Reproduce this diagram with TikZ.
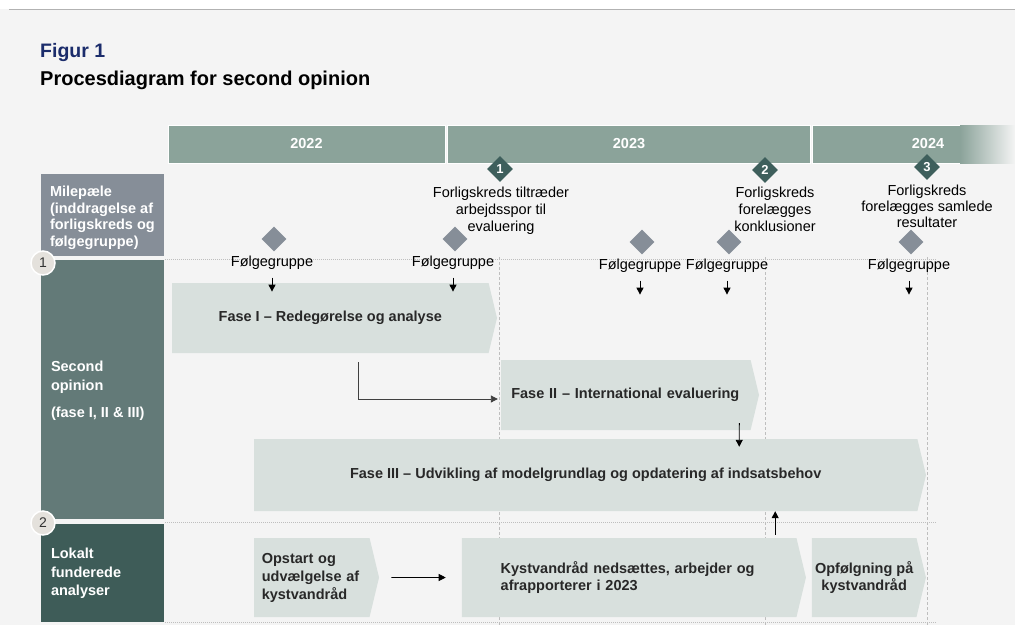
\documentclass[tikz,border=0pt]{standalone}
\usepackage{fontspec}
\setmainfont{Liberation Sans}
\usepackage{tikz}
\usetikzlibrary{shapes.geometric, shapes.symbols, arrows.meta, positioning, calc}
\definecolor{pageBg}{RGB}{244, 244, 244}
\definecolor{ruleGray}{RGB}{178, 178, 178}
\definecolor{titleBlue}{RGB}{27, 44, 107}
\definecolor{yearBg}{RGB}{139, 163, 154}
\definecolor{mileDark}{RGB}{62, 95, 92}
\definecolor{mileGray}{RGB}{134, 142, 152}
\definecolor{rowSecond}{RGB}{99, 122, 120}
\definecolor{rowLocal}{RGB}{62, 92, 88}
\definecolor{phaseBg}{RGB}{216, 224, 221}
\definecolor{phaseFg}{RGB}{40, 40, 40}
\definecolor{gridGray}{RGB}{190, 190, 190}
\definecolor{circleBg}{RGB}{228, 225, 220}
\tikzstyle{arrow} = [line width=0.9pt, -{Triangle[length=7pt,width=7pt]}, black]
\tikzstyle{basic} = [font=\fontsize{14.5}{17}\selectfont, text=black]
\tikzstyle{year} = [rectangle, fill=yearBg, draw=white, line width=0.8pt, minimum height=38pt]
\tikzstyle{yeartext} = [text=white, inner sep=0pt, font=\bfseries\fontsize{14.5}{17}\selectfont]
\tikzstyle{phase} = [signal, signal to=east, signal pointer angle=153, fill=phaseBg, text=phaseFg, inner sep=0pt, font=\bfseries\fontsize{14.5}{17}\selectfont]
\tikzstyle{rowbox} = [rectangle, minimum width=123pt, inner sep=0pt]
\tikzstyle{rowtext} = [text=white, align=left, inner sep=0pt, anchor=north west, font=\bfseries\fontsize{14.5}{18.5}\selectfont]
\tikzstyle{milestone} = [diamond, fill=mileDark, text=white, minimum size=26pt, inner sep=0pt, font=\bfseries\fontsize{13}{13}\selectfont]
\tikzstyle{fgmark} = [diamond, fill=mileGray, minimum size=25pt, inner sep=0pt]
\tikzstyle{rownum} = [circle, fill=circleBg, draw=white, line width=1.5pt, minimum size=24pt, inner sep=0pt, text=black!80, font=\fontsize{14}{14}\selectfont]
\tikzstyle{grid} = [gridGray, densely dotted, line width=1pt]
\tikzstyle{vgrid} = [gridGray, dash pattern=on 3pt off 2pt, line width=0.7pt]
\begin{document}
\begin{tikzpicture}[x=1pt, y=-1pt]
\useasboundingbox (0,0) rectangle (1015,625);
\fill[pageBg] (0,9) rectangle (1015,625);
\draw[ruleGray, line width=1pt] (9,9) -- (1015,9);

\node (figno) [anchor=west, inner sep=0pt, text=titleBlue, font=\bfseries\fontsize{19.5}{23}\selectfont] at (40,52) {Figur 1};
\node (title) [anchor=west, inner sep=0pt, font=\bfseries\fontsize{20}{23}\selectfont] at (40,80) {Procesdiagram for second opinion};

% years
\node (y2022) [year, minimum width=277pt] at (306.5,144) {};
\node (y2023) [year, minimum width=363pt] at (629,144) {};
\node (y2024) [year, minimum width=203pt] at (913.5,144) {};
\shade[left color=yearBg, right color=pageBg] (960,125) rectangle (1015,163);
\node (y2022text) [yeartext] at (y2022.center) {2022};
\node (y2023text) [yeartext] at (y2023.center) {2023};
\node (y2024text) [yeartext] at (928,144) {2024};

% grid
\draw[grid] (165,259) -- (937,259);
\draw[grid] (165,522) -- (937,522);
\draw[grid] (165,622) -- (937,622);
\foreach \x in {499,765,927} \draw[vgrid] (\x,257) -- (\x,625);

% row headers
\node (mile) [rowbox, fill=mileGray, minimum height=82pt] at (102.5,215) {};
\node (second) [rowbox, fill=rowSecond, minimum height=259pt] at (102.5,389.5) {};
\node (local) [rowbox, fill=rowLocal, minimum height=98pt] at (102.5,573) {};
\node (miletext) [rowtext, xshift=9pt, yshift=-12pt, font=\bfseries\fontsize{14.5}{16.6}\selectfont] at (mile.north west) {Milepæle\\(inddragelse af\\forligskreds og\\følgegruppe)};
\node (secondtext) [rowtext, xshift=10pt, yshift=-101pt] at (second.north west) {Second\\opinion\\[9pt](fase I, II \& III)};
\node (localtext) [rowtext, xshift=10pt, yshift=-24pt] at (local.north west) {Lokalt\\funderede\\analyser};
\node (num1) [rownum] at (43,263) {1};
\node (num2) [rownum] at (43,523) {2};

% milestones
\node (m1) [milestone] at (500,169) {1};
\node (m2) [milestone] at (765,170) {2};
\node (m3) [milestone] at (927,167) {3};
\node (m1text) [basic, align=center, inner sep=0pt, anchor=north, yshift=-5pt, xshift=1pt] at (m1.south) {Forligskreds tiltræder\\arbejdsspor til\\evaluering};
\node (m2text) [basic, align=center, inner sep=0pt, anchor=north, yshift=-4pt, xshift=10pt] at (m2.south) {Forligskreds\\forelægges\\konklusioner};
\node (m3text) [basic, align=center, inner sep=0pt, anchor=north, yshift=-5pt, font=\fontsize{14.5}{16}\selectfont] at (m3.south) {Forligskreds\\forelægges samlede\\resultater};

% phases
\node (fase1) [phase, minimum width=325pt, minimum height=70pt] at (330.3,318) {Fase I -- Redegørelse og analyse};
\node (fase2) [phase, minimum width=258pt, minimum height=70pt, text width=229pt, align=left] at (625.8,395) {Fase II -- International evaluering};
\node (fase3) [phase, minimum width=672pt, minimum height=72pt] at (585.7,475) {Fase III -- Udvikling af modelgrundlag og opdatering af indsatsbehov};
\node (opstart) [phase, minimum width=125pt, minimum height=79pt, text width=100pt, align=left, font=\bfseries\fontsize{14.5}{18}\selectfont] at (311.8,577.5) {Opstart og\\udvælgelse af\\kystvandråd};
\node (kyst) [phase, minimum width=344pt, minimum height=79pt, text width=257pt, align=left] at (629.2,577.5) {Kystvandråd nedsættes, arbejder og\\afrapporterer i 2023};
\node (opf) [phase, minimum width=114pt, minimum height=79pt, align=center] at (864.2,577.5) {Opfølgning på\\kystvandråd};

% følgegruppe
\foreach \n/\x/\y in {1/274/239, 2/455/239, 3/642/242, 4/729/242, 5/911/242} {
  \node (fgm\n) [fgmark] at (\x,\y) {};
  \node (fgt\n) [basic, inner sep=0pt, anchor=north, yshift=-4pt, xshift=-2pt] at (fgm\n.south) {Følgegruppe};
  \coordinate (fgend\n) at ($(fgt\n.south)+(0,22)$);
  \draw [arrow, shorten <=8pt] (fgt\n) -- (fgend\n);
}

\draw [arrow, black!75, shorten >=3pt] ([xshift=28.5pt,yshift=-9pt]fase1.south) |- ([yshift=-4pt]fase2.west);
\draw [arrow] ([xshift=113.5pt,yshift=7pt]fase2.south) -- ([xshift=153.5pt,yshift=-8pt]fase3.north);
\draw [arrow] ([xshift=146pt,yshift=3pt]kyst.north) -- ([xshift=189.5pt]fase3.south);
\draw [arrow, shorten <=12pt, shorten >=16pt] (opstart) -- (kyst);

\end{tikzpicture}
\end{document}
